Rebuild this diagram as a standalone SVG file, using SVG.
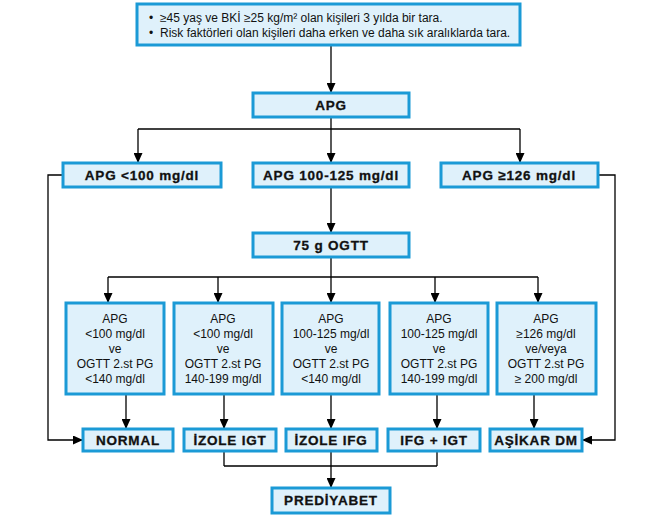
<svg xmlns="http://www.w3.org/2000/svg" width="645" height="516" viewBox="0 0 645 516">
<defs>
<style>
.box{fill:#dff1fb;stroke:#1b9ad6;stroke-width:3}
.lbl{font-family:"Liberation Sans",Arial,sans-serif;font-size:13.5px;font-weight:bold;fill:#111;stroke:#111;stroke-width:0.3;letter-spacing:0.8px;text-anchor:middle}
.txt{font-family:"Liberation Sans",Arial,sans-serif;font-size:12px;fill:#111;text-anchor:middle}
.top{font-family:"Liberation Sans",Arial,sans-serif;font-size:12px;fill:#111}
.ln{fill:none;stroke:#000;stroke-width:1.3}
.ar{marker-end:url(#arr)}
</style>
<marker id="arr" markerUnits="userSpaceOnUse" markerWidth="10" markerHeight="9" refX="10" refY="4.5" orient="auto">
<path d="M0,0 L10,4.5 L0,9 z" fill="#000"/>
</marker>
</defs>
<rect width="645" height="516" fill="#fff"/>
<g id="connectors">
<path class="ln ar" d="M331,45 V93"/>
<path class="ln ar" d="M331,117 V163"/>
<path class="ln" d="M138,129 H520"/>
<path class="ln ar" d="M138,129 V163"/>
<path class="ln ar" d="M520,129 V163"/>
<path class="ln ar" d="M63,175 H48 V440 H83"/>
<path class="ln ar" d="M598,175 H615 V440 H582"/>
<path class="ln ar" d="M331,187 V233"/>
<path class="ln" d="M331,257 V277"/>
<path class="ln" d="M108,277 H538"/>
<path class="ln ar" d="M108,277 V303"/>
<path class="ln ar" d="M218,277 V303"/>
<path class="ln ar" d="M331,277 V303"/>
<path class="ln ar" d="M435,277 V303"/>
<path class="ln ar" d="M538,277 V303"/>
<path class="ln ar" d="M126,394 V429"/>
<path class="ln ar" d="M224,394 V429"/>
<path class="ln ar" d="M331,394 V429"/>
<path class="ln ar" d="M437,394 V429"/>
<path class="ln ar" d="M534,394 V429"/>
<path class="ln" d="M224,451 V466 M331,451 V466 M437,451 V466 M224,466 H437"/>
<path class="ln ar" d="M331,466 V488"/>
</g>
<g id="screen">
<rect class="box" x="137" y="4" width="383" height="41"/>
<text class="top" x="149" y="22">•</text>
<text class="top" x="160" y="22">≥45 yaş ve BKİ ≥25 kg/m² olan kişileri 3 yılda bir tara.</text>
<text class="top" x="149" y="37">•</text>
<text class="top" x="160" y="37">Risk faktörleri olan kişileri daha erken ve daha sık aralıklarda tara.</text>
</g>
<g id="apg"><rect class="box" x="253" y="93" width="156" height="24"/><text class="lbl" x="331" y="110">APG</text></g>
<g id="apg-lt100"><rect class="box" x="63" y="163" width="158" height="24"/><text class="lbl" x="142" y="180">APG &lt;100 mg/dl</text></g>
<g id="apg-100-125"><rect class="box" x="253" y="163" width="156" height="24"/><text class="lbl" x="331" y="180">APG 100-125 mg/dl</text></g>
<g id="apg-ge126"><rect class="box" x="441" y="163" width="157" height="24"/><text class="lbl" x="519" y="180">APG ≥126 mg/dl</text></g>
<g id="ogtt"><rect class="box" x="253" y="233" width="156" height="24"/><text class="lbl" x="331" y="250">75 g OGTT</text></g>
<g id="c1"><rect class="box" x="66" y="303" width="98" height="91"/>
<text class="txt" x="115"><tspan x="115" y="323">APG</tspan><tspan x="115" y="338">&lt;100 mg/dl</tspan><tspan x="115" y="353">ve</tspan><tspan x="115" y="368">OGTT 2.st PG</tspan><tspan x="115" y="383">&lt;140 mg/dl</tspan></text></g>
<g id="c2"><rect class="box" x="174" y="303" width="99" height="91"/>
<text class="txt" x="223"><tspan x="223" y="323">APG</tspan><tspan x="223" y="338">&lt;100 mg/dl</tspan><tspan x="223" y="353">ve</tspan><tspan x="223" y="368">OGTT 2.st PG</tspan><tspan x="223" y="383">140-199 mg/dl</tspan></text></g>
<g id="c3"><rect class="box" x="282" y="303" width="97" height="91"/>
<text class="txt" x="331"><tspan x="331" y="323">APG</tspan><tspan x="331" y="338">100-125 mg/dl</tspan><tspan x="331" y="353">ve</tspan><tspan x="331" y="368">OGTT 2.st PG</tspan><tspan x="331" y="383">&lt;140 mg/dl</tspan></text></g>
<g id="c4"><rect class="box" x="390" y="303" width="98" height="91"/>
<text class="txt" x="439"><tspan x="439" y="323">APG</tspan><tspan x="439" y="338">100-125 mg/dl</tspan><tspan x="439" y="353">ve</tspan><tspan x="439" y="368">OGTT 2.st PG</tspan><tspan x="439" y="383">140-199 mg/dl</tspan></text></g>
<g id="c5"><rect class="box" x="497" y="303" width="99" height="91"/>
<text class="txt" x="546"><tspan x="546" y="323">APG</tspan><tspan x="546" y="338">≥126 mg/dl</tspan><tspan x="546" y="353">ve/veya</tspan><tspan x="546" y="368">OGTT 2.st PG</tspan><tspan x="546" y="383">≥ 200 mg/dl</tspan></text></g>
<g id="normal"><rect class="box" x="83" y="429" width="90" height="22"/><text class="lbl" x="128" y="445">NORMAL</text></g>
<g id="izole-igt"><rect class="box" x="184" y="429" width="92" height="22"/><text class="lbl" x="230" y="445">İZOLE IGT</text></g>
<g id="izole-ifg"><rect class="box" x="286" y="429" width="91" height="22"/><text class="lbl" x="331" y="445">İZOLE IFG</text></g>
<g id="ifg-igt"><rect class="box" x="388" y="429" width="92" height="22"/><text class="lbl" x="434" y="445">IFG + IGT</text></g>
<g id="asikar-dm"><rect class="box" x="490" y="429" width="92" height="22"/><text class="lbl" x="536" y="445">AŞİKAR DM</text></g>
<g id="prediyabet"><rect class="box" x="272" y="488" width="118" height="25"/><text class="lbl" x="331" y="505">PREDİYABET</text></g>
</svg>
